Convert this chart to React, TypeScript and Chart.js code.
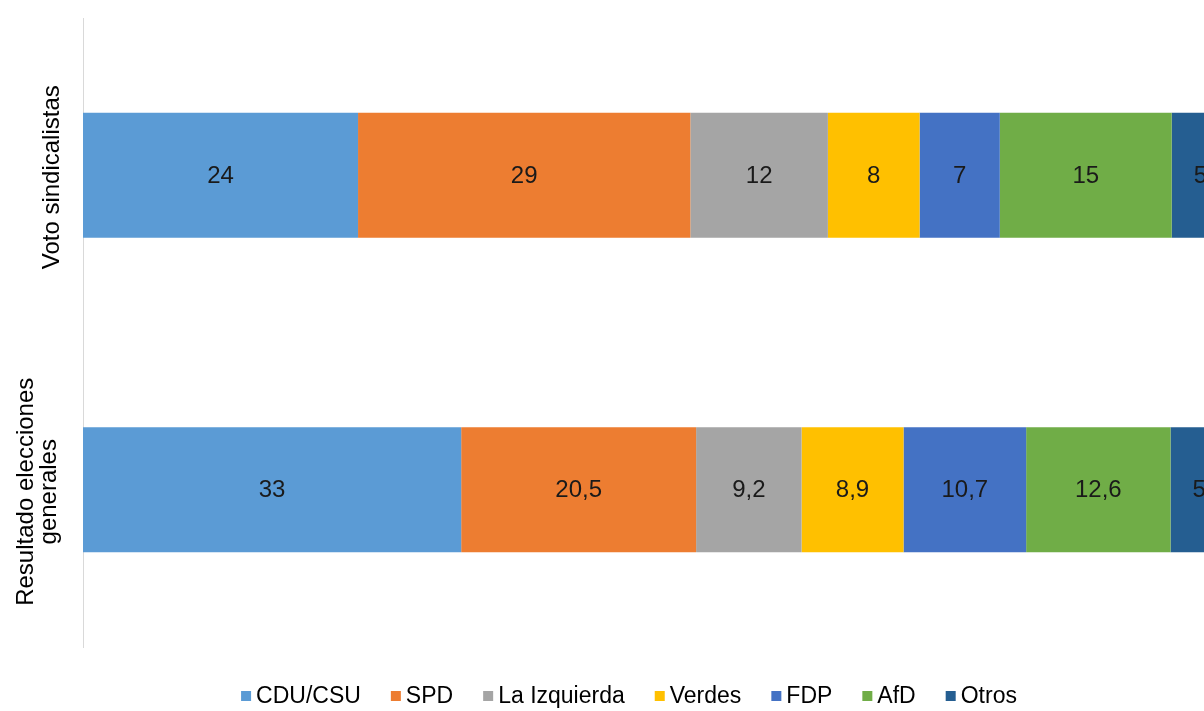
import React, { useEffect, useRef } from "react";
import { Chart, registerables } from "chart.js";

Chart.register(...registerables);

// ---- data ----
const categoryLabels: string[][] = [["Voto sindicalistas"], ["Resultado elecciones", "generales"]];
const seriesNames = ["CDU/CSU", "SPD", "La Izquierda", "Verdes", "FDP", "AfD", "Otros"];
const cduCsu = [24, 33];
const spd = [29, 20.5];
const laIzquierda = [12, 9.2];
const verdes = [8, 8.9];
const fdp = [7, 10.7];
const afd = [15, 12.6];
const otros = [5, 5];
const seriesColors = ["#5B9BD5", "#ED7D31", "#A5A5A5", "#FFC000", "#4472C4", "#70AD47", "#255E91"];

const FONT = '"Liberation Sans", Arial, sans-serif';

const fmt = (v: number) => String(v).replace(".", ",");

const labelsPlugin = {
  id: "customLabels",
  afterDatasetsDraw(chart: any) {
    const ctx = chart.ctx;
    ctx.save();
    // data labels
    ctx.font = `24px ${FONT}`;
    ctx.fillStyle = "#1A1A1A";
    ctx.textAlign = "center";
    ctx.textBaseline = "middle";
    chart.data.datasets.forEach((ds: any, di: number) => {
      const meta = chart.getDatasetMeta(di);
      meta.data.forEach((el: any, i: number) => {
        const cx = (el.x + el.base) / 2;
        ctx.fillText(fmt(ds.data[i]), cx, el.y + 1);
      });
    });
    // y category labels (rotated)
    const yScale = chart.scales.y;
    ctx.fillStyle = "#000000";
    categoryLabels.forEach((lines, i) => {
      const py = yScale.getPixelForValue(i);
      const lh = 23;
      const lastX = lines.length > 1 ? 49 : 52;
      lines.forEach((line, li) => {
        const x = lastX - (lines.length - 1 - li) * lh;
        ctx.save();
        ctx.translate(x, py + 2);
        ctx.rotate(-Math.PI / 2);
        ctx.textAlign = "center";
        ctx.textBaseline = "middle";
        ctx.fillText(line, 0, 0);
        ctx.restore();
      });
    });
    // legend
    ctx.font = `23px ${FONT}`;
    ctx.textAlign = "left";
    ctx.textBaseline = "middle";
    const box = 10;
    const gapBoxText = 5;
    const gapItems = 30;
    const widths = seriesNames.map((n) => ctx.measureText(n).width);
    const total =
      widths.reduce((a, w) => a + box + gapBoxText + w, 0) + gapItems * (seriesNames.length - 1);
    let x = 629 - total / 2;
    const ly = 696;
    seriesNames.forEach((n, i) => {
      ctx.fillStyle = seriesColors[i];
      ctx.fillRect(x, ly - box / 2, box, box);
      ctx.fillStyle = "#000000";
      ctx.fillText(n, x + box + gapBoxText, ly + 1);
      x += box + gapBoxText + widths[i] + gapItems;
    });
    ctx.restore();
  },
};

export default function App() {
  const canvasRef = useRef<HTMLCanvasElement | null>(null);

  useEffect(() => {
    if (!canvasRef.current) return;
    const allValues = [cduCsu, spd, laIzquierda, verdes, fdp, afd, otros];
    const chart = new Chart(canvasRef.current, {
      type: "bar",
      data: {
        labels: categoryLabels.map((l) => l.join(" ")),
        datasets: seriesNames.map((name, i) => ({
          label: name,
          data: allValues[i],
          backgroundColor: seriesColors[i],
          borderWidth: 0,
          categoryPercentage: 0.398,
          barPercentage: 1,
        })),
      },
      options: {
        indexAxis: "y",
        responsive: false,
        animation: false,
        maintainAspectRatio: false,
        layout: { padding: { left: 0, right: 31, top: 18, bottom: 64 } },
        plugins: {
          legend: { display: false },
          tooltip: { enabled: false },
        },
        scales: {
          x: {
            stacked: true,
            min: 0,
            max: 100,
            display: false,
          },
          y: {
            stacked: true,
            ticks: { display: false },
            grid: { display: true, drawOnChartArea: false, drawTicks: false },
            border: { display: true, color: "#D9D9D9", width: 1 },
            afterFit: (scale: any) => {
              scale.width = 83;
            },
          },
        },
      },
      plugins: [labelsPlugin],
    } as any);
    return () => chart.destroy();
  }, []);

  return (
    <div
      style={{
        position: "fixed",
        left: 0,
        top: 0,
        width: 1204,
        height: 711,
        overflow: "hidden",
        background: "#ffffff",
      }}
    >
      <canvas ref={canvasRef} width={1260} height={711} style={{ display: "block" }} />
    </div>
  );
}
